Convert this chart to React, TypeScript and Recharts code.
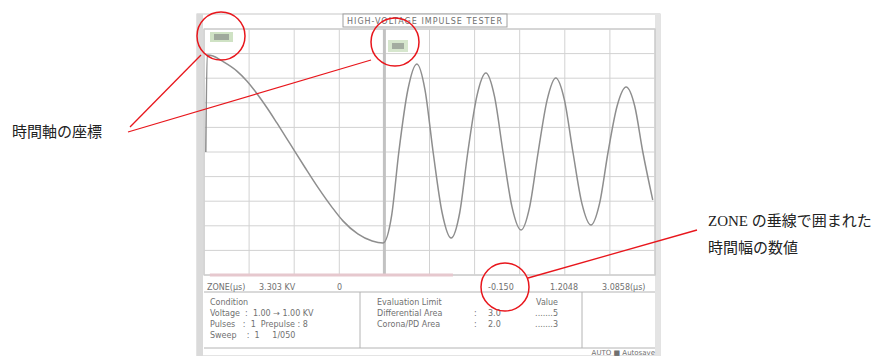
import { LineChart, Line, XAxis, YAxis, CartesianGrid, ReferenceLine } from 'recharts';

// waveform samples: time in divisions, voltage in divisions (centre = 0)
const time = [
  0.04, 0.07, 0.2, 0.4, 0.73, 0.95, 1.18, 1.4, 1.62, 1.91, 2.24, 2.53, 2.84, 3.08, 3.41, 3.73, 3.97,
  4.16, 4.32, 4.52, 4.72, 4.9, 5.08, 5.28, 5.48, 5.67, 5.85, 6.05, 6.25, 6.44, 6.63, 6.83, 7.03,
  7.22, 7.41, 7.61, 7.8, 7.99, 8.18, 8.38, 8.58, 8.77, 8.96, 9.16, 9.36, 9.55, 9.73, 9.95,
];
const volt = [
  0, 3.94, 3.9, 3.7, 3.29, 2.89, 2.36, 1.79, 1.17, 0.33, -0.63, -1.45, -2.25, -2.8, -3.33, -3.62, -3.7,
  -2.59, 0, 2.53, 3.58, 2.53, 0, -2.47, -3.5, -2.47, 0, 2.27, 3.21, 2.27, 0, -2.24, -3.17,
  -2.24, 0, 2.13, 3.01, 2.13, 0, -2.1, -2.97, -2.1, 0, 1.87, 2.64, 1.87, 0, -1.95,
];

const xTicks = [0, 1, 2, 3, 4, 5, 6, 7, 8, 9, 10];
const yTicks = [-5, -4, -3, -2, -1, 0, 1, 2, 3, 4, 5];
const cursorAt = 4;
const zoneStart = 0.13;
const zoneEnd = 5.52;

const title = 'HIGH-VOLTAGE IMPULSE TESTER';
const zoneLeft = ['ZONE(µs)', '3.303 KV', '0'];
const zoneRight = ['-0.150', '1.2048', '3.0858(µs)'];
const conditionLines = ['Condition', 'Voltage  :  1.00 → 1.00 KV', 'Pulses   :  1  Prepulse : 8', 'Sweep    :  1     1/050'];
const limitLines = ['Evaluation Limit', 'Differential Area', 'Corona/PD Area'];
const limitValues = ['', '3.0', '2.0'];
const limitCounts = ['Value', '.......5', '.......3'];

const data = time.map((t, i) => ({ t, v: volt[i] }));

const W = 887;
const H = 356;
const panelFont = 'DejaVu Sans, sans-serif';
const panelInk = '#707070';
const red = '#e8161c';

function ScreenFrame() {
  return (
    <svg width={W} height={H} style={{ position: 'absolute', left: 0, top: 0 }}>
      <rect x={197} y={14} width={463} height={342} fill="#fff" stroke="#c8c8c8" />
      <rect x={197} y={14} width={6} height={342} fill="#dadada" />
      <rect x={655} y={14} width={5} height={342} fill="#e4e4e4" />
      <rect x={204} y={29} width={451} height={246} fill="#fff" stroke="#b4b4b4" />
      <rect x={343} y={14} width={164} height={13} fill="#fff" stroke="#a0a0a0" />
      <text x={425} y={24} textAnchor="middle" fontSize={8} fill={panelInk} fontFamily={panelFont} letterSpacing={1}>
        {title}
      </text>
      {/* zone readout row */}
      <line x1={204} y1={292} x2={655} y2={292} stroke="#b4b4b4" />
      <text x={207} y={290} fontSize={8} fill={panelInk} fontFamily={panelFont}>{zoneLeft[0]}</text>
      <text x={259} y={290} fontSize={8} fill={panelInk} fontFamily={panelFont}>{zoneLeft[1]}</text>
      <text x={337} y={290} fontSize={8} fill={panelInk} fontFamily={panelFont}>{zoneLeft[2]}</text>
      <text x={488} y={290} fontSize={8} fill={panelInk} fontFamily={panelFont}>{zoneRight[0]}</text>
      <text x={550} y={290} fontSize={8} fill={panelInk} fontFamily={panelFont}>{zoneRight[1]}</text>
      <text x={602} y={290} fontSize={8} fill={panelInk} fontFamily={panelFont}>{zoneRight[2]}</text>
      {/* condition / evaluation panel */}
      <line x1={204} y1={348} x2={655} y2={348} stroke="#b4b4b4" />
      <line x1={360} y1={292} x2={360} y2={348} stroke="#b4b4b4" />
      <line x1={582} y1={292} x2={582} y2={348} stroke="#b4b4b4" />
      {conditionLines.map((s, i) => (
        <text key={s} x={210} y={305 + i * 11} fontSize={8} fill={panelInk} fontFamily={panelFont} xmlSpace="preserve">
          {s}
        </text>
      ))}
      {limitLines.map((s, i) => (
        <g key={s}>
          <text x={377} y={305 + i * 11} fontSize={8} fill={panelInk} fontFamily={panelFont}>{s}</text>
          {i > 0 && <text x={474} y={305 + i * 11} fontSize={8} fill={panelInk} fontFamily={panelFont}>:</text>}
          <text x={488} y={305 + i * 11} fontSize={8} fill={panelInk} fontFamily={panelFont}>{limitValues[i]}</text>
          <text x={558} y={305 + i * 11} textAnchor="end" fontSize={8} fill={panelInk} fontFamily={panelFont}>{limitCounts[i]}</text>
        </g>
      ))}
      <text x={655} y={355} textAnchor="end" fontSize={7} fill={panelInk} fontFamily={panelFont}>AUTO ■ Autosave</text>
    </svg>
  );
}

function Callouts() {
  return (
    <svg width={W} height={H} style={{ position: 'absolute', left: 0, top: 0, pointerEvents: 'none' }}>
      {/* cursor tags */}
      <rect x={210} y={32} width={23} height={10} fill="#cfe2c4" />
      <rect x={214} y={34} width={15} height={6} fill="#9fa99c" />
      <rect x={388} y={40} width={20} height={12} fill="#d6e6cd" />
      <rect x={392} y={43} width={12} height={6} fill="#a3aca0" />

      <circle cx={221} cy={36} r={24} fill="none" stroke={red} strokeWidth={1.5} />
      <circle cx={395} cy={42} r={24} fill="none" stroke={red} strokeWidth={1.5} />
      <circle cx={505} cy={287} r={24} fill="none" stroke={red} strokeWidth={1.5} />

      <line x1={130} y1={127} x2={201} y2={55} stroke={red} strokeWidth={1.3} />
      <line x1={128} y1={132} x2={371} y2={60} stroke={red} strokeWidth={1.3} />
      <line x1={528} y1={278} x2={697} y2={230} stroke={red} strokeWidth={1.3} />

      <text x={12} y={137} fontSize={15} fill="#222" fontFamily="Noto Sans CJK JP">時間軸の座標</text>
      <text x={708} y={226} fontSize={15} fill="#222" fontFamily="Noto Sans CJK JP">
        <tspan fontFamily="Liberation Serif">ZONE </tspan>の垂線で囲まれた
      </text>
      <text x={708} y={253} fontSize={15} fill="#222" fontFamily="Noto Sans CJK JP">時間幅の数値</text>
    </svg>
  );
}

export default function App() {
  return (
    <div style={{ position: 'absolute', left: 0, top: 0, width: W, height: H, background: '#fff' }}>
      <ScreenFrame />
      <div style={{ position: 'absolute', left: 0, top: 0 }}>
        <LineChart width={W} height={H} data={data} margin={{ top: 29, left: 204, right: 232, bottom: 81 }}>
          <CartesianGrid stroke="#d2d2d2" />
          <XAxis dataKey="t" type="number" domain={[0, 10]} ticks={xTicks} hide />
          <YAxis type="number" domain={[-5, 5]} ticks={yTicks} hide />
          <ReferenceLine x={cursorAt} stroke="#c2c2c2" strokeWidth={3} />
          <ReferenceLine
            segment={[{ x: zoneStart, y: -5 }, { x: zoneEnd, y: -5 }]}
            stroke="#e6c8ce"
            strokeWidth={3}
          />
          <Line
            type="monotone"
            dataKey="v"
            stroke="#8e8e8e"
            strokeWidth={1.5}
            dot={false}
            isAnimationActive={false}
          />
        </LineChart>
      </div>
      <Callouts />
    </div>
  );
}
